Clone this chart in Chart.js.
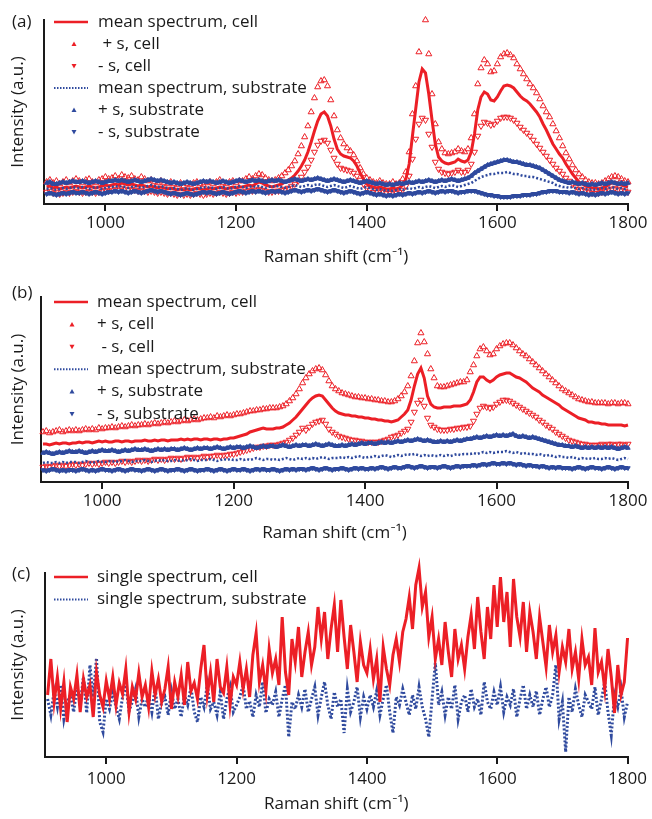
<!DOCTYPE html>
<html>
<head>
<meta charset="utf-8">
<script src="https://cdn.jsdelivr.net/npm/chart.js@4.4.1/dist/chart.umd.min.js"></script>
<style>
  body { margin: 0; background: #fff; }
  .panel { position: absolute; left: 0; width: 652px; height: 272px; }
</style>
</head>
<body>
<div class="panel" style="top:0px"><canvas id="panelA"></canvas></div>
<div class="panel" style="top:276px"><canvas id="panelB"></canvas></div>
<div class="panel" style="top:547px"><canvas id="panelC"></canvas></div>
<script>
// Raman shift grid (cm-1), one point every 5 cm-1
var shift = [];
for (var w = 910; w <= 1800; w += 5) shift.push(w);

var xTicks = [1000, 1200, 1400, 1600, 1800];

// (a) intensities
var cellMeanA = [
  17,18,16,17,15,16,17,16,17,18, 17,16,17,18,17,16,17,18,19,18,
  19,20,19,21,20,19,20,19,18,19, 18,17,18,17,16,17,16,15,16,15,
  14,15,14,15,14,15,16,15,14,15, 16,15,16,17,16,15,16,17,16,17,
  17,18,19,18,20,22,21,19,18,17, 18,19,20,22,24,26,29,33,38,44,
  52,62,73,83,90,92,88,78,65,55, 50,48,47,46,43,38,31,25,20,18,
  17,16,17,16,15,15,16,15,16,19, 25,40,68,95,122,135,131,110,84,60,
  47,43,41,40,41,42,45,43,42,44, 52,70,94,107,112,110,104,103,107,113,
  118,119,118,116,112,108,105,103,100,96, 92,87,80,74,67,60,55,50,46,40,
  35,30,26,22,20,18,17,16,16,15, 16,17,19,21,22,21,19,18,17
];
var cellUpA = [
  22,24,21,23,20,22,24,21,23,25, 23,21,24,25,22,21,24,25,27,25,
  26,28,25,29,27,26,28,25,24,27, 25,23,24,22,21,23,21,20,22,20,
  19,21,18,20,19,21,22,20,19,21, 22,20,22,24,21,20,22,23,21,23,
  23,25,27,25,28,30,29,26,24,23, 24,26,28,31,34,38,43,50,58,67,
  78,92,106,117,123,124,118,104,88,74, 66,60,56,53,49,43,36,30,26,24,
  22,21,23,21,20,20,22,20,21,25, 32,52,90,118,152,189,184,150,110,80,
  62,55,51,50,51,52,55,53,52,55, 66,90,120,136,144,140,132,133,140,147,
  150,151,149,146,140,135,130,125,120,116, 111,105,98,92,87,80,73,66,58,51,
  45,39,34,30,27,24,22,21,21,20, 21,23,25,27,28,27,25,23,22
];
var cellLowA = [
  12,13,11,12,10,11,12,11,12,13, 12,11,12,13,12,11,12,13,14,13,
  14,15,14,16,15,14,15,14,13,14, 13,12,13,12,11,12,11,10,11,10,
  9,10,9,10,9,10,11,10,9,10, 11,10,11,12,11,10,11,12,11,12,
  12,13,14,13,14,15,14,13,12,12, 13,13,14,15,16,18,20,23,27,32,
  37,44,52,59,63,64,61,54,46,40, 36,35,34,33,31,28,24,20,16,14,
  12,12,13,12,11,11,12,11,12,14, 18,28,45,65,80,86,84,70,57,42,
  35,32,31,30,31,32,34,32,32,34, 40,52,68,78,82,81,79,80,83,86,
  87,87,86,84,81,77,74,71,68,64, 60,56,52,48,44,40,36,33,30,26,
  23,20,17,15,14,13,12,11,11,11, 12,13,14,15,16,15,14,13,12
];
var subMeanA = [
  15,16,15,14,15,16,15,16,17,16, 16,17,16,15,16,17,16,15,16,17,
  17,18,17,18,17,16,17,18,17,16, 17,18,19,18,17,18,17,16,15,16,
  15,14,15,16,15,14,15,16,17,16, 17,16,15,16,17,16,15,16,17,18,
  17,16,17,18,17,18,17,16,17,18, 17,18,17,16,17,18,19,18,17,18,
  19,18,19,20,19,18,17,18,19,18, 17,16,17,18,17,16,15,16,17,16,
  15,14,15,14,13,14,13,14,15,14, 15,16,15,16,17,16,17,18,17,16,
  17,18,17,18,19,18,17,18,19,20, 21,23,25,27,28,29,30,30,31,31,
  31,32,31,30,30,29,28,28,27,27, 26,25,24,23,22,21,19,18,17,17,
  16,17,16,15,16,15,14,15,14,15, 16,15,16,17,16,15,16,15,16
];
var subUpA = [
  21,22,20,20,21,22,21,22,23,22, 22,23,22,21,22,23,22,21,22,23,
  23,24,23,24,23,22,23,24,23,22, 23,24,25,24,23,24,23,22,21,22,
  21,20,21,22,21,20,21,22,23,22, 23,22,21,22,23,22,21,22,23,24,
  23,22,23,24,23,24,23,22,23,24, 23,24,23,22,23,24,25,24,23,24,
  25,24,25,26,25,24,23,24,25,24, 23,22,23,24,23,22,21,22,23,22,
  21,20,21,20,19,20,19,20,21,20, 21,22,21,22,23,22,23,24,23,22,
  23,24,23,24,25,24,23,24,25,26, 28,31,33,35,37,39,40,41,42,43,
  44,44,43,42,42,41,40,39,39,38, 37,36,34,32,30,28,26,24,23,22,
  21,22,21,20,21,20,19,20,19,20, 21,20,21,22,21,20,21,20,21
];
var subLowA = [
  10,11,10,9,10,11,10,11,12,11, 11,12,11,10,11,12,11,10,11,12,
  12,13,12,13,12,11,12,13,12,11, 12,13,14,13,12,13,12,11,10,11,
  10,9,10,11,10,9,10,11,12,11, 12,11,10,11,12,11,10,11,12,13,
  12,11,12,13,12,13,12,11,12,13, 12,13,12,11,12,13,14,13,12,13,
  14,13,14,15,14,13,12,13,14,13, 12,11,12,13,12,11,10,11,12,11,
  10,9,10,9,8,9,8,9,10,9, 10,11,10,11,12,11,12,13,12,11,
  12,13,12,13,13,12,11,12,12,13, 13,13,12,11,10,9,9,8,8,7,
  7,7,7,8,8,8,9,9,9,10, 10,11,12,12,13,13,13,12,12,12,
  11,12,11,10,11,10,9,10,9,10, 11,10,11,12,11,10,11,10,11
];

// (b) intensities
var cellMeanB = [
  38,38,37,38,39,38,39,39,38,39, 39,40,39,40,40,39,40,41,40,41,
  40,40,41,41,40,41,41,40,41,41, 41,42,41,41,42,41,42,42,41,42,
  42,42,43,42,43,42,43,43,42,43, 43,42,43,43,42,43,43,44,44,45,
  46,47,48,50,51,52,53,54,53,53, 53,54,54,55,57,59,62,65,69,73,
  77,81,84,86,87,86,82,78,74,71, 69,68,67,67,66,66,65,65,64,64,
  63,63,62,62,61,61,60,61,62,65, 68,72,82,96,108,114,104,86,78,75,
  74,74,75,75,75,76,76,76,77,78, 82,90,100,105,105,102,100,102,105,107,
  108,109,109,107,105,104,102,100,97,94, 92,90,87,85,83,81,79,77,74,72,
  70,68,66,64,63,62,60,60,59,59, 58,58,57,57,57,57,57,56,57
];
var cellUpB = [
  50,51,49,50,51,52,50,51,52,51, 52,51,52,53,52,53,52,54,53,54,
  54,55,54,55,56,55,56,57,56,57, 57,58,57,58,59,58,59,60,59,60,
  61,60,61,62,61,62,63,62,63,64, 64,65,64,66,65,66,67,66,67,68,
  68,69,70,71,71,72,72,73,73,74, 74,74,75,76,78,81,84,88,93,99,
  104,108,111,113,114,112,107,101,96,93, 91,89,88,87,86,85,85,84,84,83,
  83,82,82,81,81,80,80,81,83,86, 90,96,106,121,139,149,140,128,113,104,
  96,95,95,96,97,98,99,100,100,102, 110,117,126,133,135,131,127,128,133,136,
  138,139,139,137,134,131,128,126,123,120, 117,114,111,108,105,102,99,96,93,91,
  89,87,85,83,82,81,80,80,79,79, 79,79,78,79,79,78,79,79,78
];
var cellLowB = [
  15,16,15,16,17,16,17,16,17,18, 17,18,17,18,19,18,19,18,19,20,
  19,20,19,20,21,20,21,20,21,22, 21,22,21,22,23,22,23,22,23,24,
  23,24,23,24,25,24,25,24,25,26, 25,26,26,27,26,27,27,28,28,29,
  30,31,32,33,34,35,35,36,36,37, 37,37,38,39,40,42,44,47,50,54,
  52,55,58,60,61,62,58,53,50,48, 46,45,44,43,42,42,41,41,40,40,
  40,40,40,41,42,43,45,46,47,49, 51,53,60,70,79,82,76,64,57,55,
  53,52,52,52,53,53,54,54,55,55, 56,61,68,74,76,75,74,75,78,80,
  82,82,81,79,77,75,73,71,69,67, 65,62,60,57,55,53,50,48,46,44,
  42,41,40,39,38,38,37,37,37,37, 38,37,38,38,37,38,38,37,38
];
var subMeanB = [
  19,20,19,19,20,19,20,19,20,20, 20,19,20,21,20,19,20,21,20,20,
  21,20,21,20,21,22,21,20,21,21, 21,22,21,20,21,22,21,22,21,21,
  22,21,22,21,22,23,22,21,22,22, 22,23,22,21,22,23,22,23,22,22,
  23,22,23,22,23,24,23,22,23,23, 22,23,22,23,24,23,22,23,24,23,
  24,23,24,23,24,25,24,23,24,24, 24,25,24,25,24,25,26,25,24,25,
  25,26,25,26,27,26,25,26,27,26, 27,28,27,28,27,26,27,26,27,26,
  26,27,26,27,26,27,28,27,28,28, 28,29,28,29,30,29,30,29,30,30,
  30,31,30,29,30,29,28,29,28,28, 27,28,27,26,27,26,25,26,25,25,
  24,25,24,23,24,23,24,23,24,23, 23,24,23,24,23,22,23,24,23
];
var subUpB = [
  29,30,29,28,29,30,29,30,31,30, 30,31,30,29,30,31,30,31,32,31,
  31,32,31,30,31,32,31,32,33,32, 32,33,32,31,32,33,32,33,32,33,
  33,32,33,34,33,32,33,34,33,34, 34,33,34,35,34,33,34,35,34,35,
  35,34,35,36,35,34,35,36,35,36, 36,35,36,37,36,35,36,37,36,37,
  37,36,37,38,37,36,37,38,37,36, 36,37,36,37,38,37,38,39,38,39,
  39,38,39,40,39,40,39,40,41,40, 41,42,41,42,43,42,41,42,41,40,
  40,41,40,41,40,41,42,41,42,43, 43,44,45,44,45,46,45,46,47,46,
  47,46,47,48,46,45,46,45,44,45, 44,43,42,41,40,39,38,37,37,36,
  36,35,36,35,34,35,34,35,34,35, 34,35,34,35,34,33,34,35,34
];
var subLowB = [
  12,11,12,13,12,11,12,11,12,12, 11,12,13,12,11,12,11,12,13,12,
  12,11,12,13,12,11,12,13,12,12, 11,12,13,12,11,12,13,12,11,12,
  12,13,12,11,12,13,12,11,12,12, 13,12,11,12,13,12,11,12,13,12,
  12,13,12,11,12,13,12,13,12,12, 13,12,11,12,13,12,13,12,13,13,
  12,13,14,13,12,13,14,13,12,13, 13,14,13,12,13,14,13,14,13,13,
  14,13,14,15,14,13,14,15,14,14, 15,16,15,14,15,16,15,14,15,15,
  14,15,16,15,14,15,16,15,16,16, 16,17,16,17,18,17,18,19,18,18,
  19,18,19,18,17,18,17,16,17,16, 16,15,16,15,14,15,14,15,14,14,
  14,13,14,15,14,13,14,15,14,14, 13,14,15,14,13,14,15,14,14
];

// (c) single spectra
var cellSingleC = [
  62,98,55,80,48,75,35,70,58,82, 45,78,60,72,40,85,62,50,76,58,
  80,52,74,63,88,45,70,58,84,60, 72,50,86,62,78,55,68,90,48,75,
  60,82,52,95,66,74,58,88,112,62, 85,55,98,70,64,90,52,80,72,95,
  68,88,60,102,124,75,92,66,108,84, 98,72,140,85,62,118,95,130,80,105,
  125,92,110,150,118,145,98,128,152,105, 157,120,88,132,105,75,115,92,84,108,
  78,98,55,110,88,72,102,118,95,125, 138,160,128,172,189,150,165,120,140,98,
  118,92,135,105,80,128,98,112,88,120, 142,108,160,125,98,150,118,172,130,180,
  135,165,110,178,140,120,155,105,145,125, 98,140,115,90,132,105,122,85,110,95,
  128,88,105,78,118,92,100,72,129,85, 95,68,108,80,44,92,62,75,119
];
var subSingleC = [
  58,42,66,50,72,38,55,62,45,70, 52,80,44,92,60,99,35,25,58,48,
  64,50,38,60,72,46,55,68,40,58, 50,62,45,70,38,55,60,42,66,48,
  58,40,62,52,70,45,35,60,50,72, 48,55,42,65,38,58,70,45,52,60,
  72,48,56,40,62,50,75,44,58,52, 65,40,58,72,20,55,48,62,50,68,
  45,58,70,42,60,75,52,38,65,50, 58,24,68,45,55,70,40,60,48,62,
  50,66,42,58,72,45,24,60,52,68, 55,42,62,48,70,50,38,20,58,94,
  52,65,42,60,48,72,38,55,62,45, 68,50,58,42,75,55,48,65,52,70,
  45,60,52,68,40,58,72,48,62,50, 66,42,58,70,50,62,92,38,55,5,
  60,45,68,52,40,62,55,48,70,42, 58,75,45,22,62,50,68,40,55
];

var RED = '#ec1f26';
var BLUE = '#2f4a9e';
var INK = '#1a1a1a';
var FONT = '"Open Sans", Lato, sans-serif';

// legend + panel letter drawn inside the plot, upper left
var panelLegend = {
  id: 'panelLegend',
  afterDraw: function(chart, args, o) {
    if (!o || !o.letter) return;
    var ctx = chart.ctx;
    ctx.save();
    ctx.font = '17px ' + FONT;
    ctx.textBaseline = 'middle';
    ctx.fillStyle = INK;
    ctx.fillText(o.letter, 12, o.letterY);
    chart.data.datasets.forEach(function(ds, i) {
      var y = o.rowY + i * o.rowStep;
      if (ds.pointRadius === 0) {
        ctx.strokeStyle = ds.borderColor;
        ctx.lineWidth = ds.borderDash.length ? 2 : 2.5;
        ctx.setLineDash(ds.borderDash.length ? [1.5, 1.5] : []);
        ctx.beginPath();
        ctx.moveTo(54, y);
        ctx.lineTo(88, y);
        ctx.stroke();
        ctx.setLineDash([]);
      } else {
        var d = ds.pointRotation === 180 ? -1 : 1;
        ctx.fillStyle = ds.pointBorderColor;
        ctx.beginPath();
        ctx.moveTo(o.markX, y - 2.5 * d);
        ctx.lineTo(o.markX + 2.5, y + 2 * d);
        ctx.lineTo(o.markX - 2.5, y + 2 * d);
        ctx.closePath();
        ctx.fill();
      }
      ctx.fillStyle = INK;
      ctx.fillText(ds.label, o.textX, y);
    });
    ctx.restore();
  }
};
Chart.register(panelLegend);

function meanLine(label, data, color, dotted) {
  return {
    label: label, data: data, borderColor: color,
    borderWidth: dotted ? 2.5 : 3, borderDash: dotted ? [2, 2] : [],
    pointRadius: 0, tension: 0, clip: false, order: dotted ? 0 : 1
  };
}
function openMarks(label, data, down) {
  return {
    label: label, data: data, showLine: false, pointStyle: 'triangle',
    pointRadius: 3.5, pointBorderWidth: 1, pointBorderColor: RED,
    pointBackgroundColor: 'rgba(255,255,255,0)', pointRotation: down ? 180 : 0,
    borderColor: RED, clip: false, order: 1
  };
}
function bandMarks(label, data, down) {
  return {
    label: label, data: data, borderColor: BLUE, borderWidth: 4,
    pointStyle: 'triangle', pointRadius: 2.5, pointBorderWidth: 1,
    pointBorderColor: BLUE, pointBackgroundColor: BLUE,
    pointRotation: down ? 180 : 0, tension: 0, clip: false, order: 0
  };
}

function panelOptions(cfg) {
  return {
    responsive: true, maintainAspectRatio: false, animation: false,
    layout: { padding: { top: cfg.top, right: 24, left: 0, bottom: 0 } },
    plugins: {
      legend: { display: false },
      tooltip: { enabled: false },
      panelLegend: cfg.legend
    },
    scales: {
      x: {
        type: 'linear', min: cfg.xMin, max: 1800,
        afterBuildTicks: function(s) { s.ticks = xTicks.map(function(v) { return { value: v }; }); },
        afterFit: function(s) { s.height = cfg.xHeight; },
        ticks: {
          font: { family: FONT, size: 17 }, color: INK, padding: cfg.tickPad,
          maxRotation: 0, callback: function(v) { return String(v); }
        },
        grid: { drawOnChartArea: false, tickLength: 7, color: INK, lineWidth: 2 },
        border: { color: INK, width: 2 },
        title: {
          display: true, text: 'Raman shift (cm\u207B\u00B9)', color: INK,
          font: { family: FONT, size: 17 }, padding: { top: 0, bottom: 5 }
        }
      },
      y: {
        min: 0, max: cfg.yMax,
        afterFit: function(s) { s.width = cfg.yWidth; },
        ticks: { display: false },
        grid: { display: false },
        border: { color: INK, width: 2 },
        title: {
          display: true, text: 'Intensity (a.u.)', color: INK,
          font: { family: FONT, size: 17 }, padding: { top: 8, bottom: 0 }
        }
      }
    }
  };
}

// (a)
new Chart(document.getElementById('panelA'), {
  type: 'line',
  data: {
    labels: shift,
    datasets: [
      meanLine('mean spectrum, cell', cellMeanA, RED, false),
      openMarks(' + s, cell', cellUpA, false),
      openMarks('- s, cell', cellLowA, true),
      meanLine('mean spectrum, substrate', subMeanA, BLUE, true),
      bandMarks('+ s, substrate', subUpA, false),
      bandMarks('- s, substrate', subLowA, true)
    ]
  },
  options: panelOptions({
    top: 20, xHeight: 68, tickPad: 2, yWidth: 44, yMax: 184, xMin: 906,
    legend: { letter: '(a)', letterY: 22, rowY: 22, rowStep: 22, markX: 74, textX: 98 }
  })
});

// (b)
new Chart(document.getElementById('panelB'), {
  type: 'line',
  data: {
    labels: shift,
    datasets: [
      meanLine('mean spectrum, cell', cellMeanB, RED, false),
      openMarks('+ s, cell', cellUpB, false),
      openMarks(' - s, cell', cellLowB, true),
      meanLine('mean spectrum, substrate', subMeanB, BLUE, true),
      bandMarks('+ s, substrate', subUpB, false),
      bandMarks('- s, substrate', subLowB, true)
    ]
  },
  options: panelOptions({
    top: 21, xHeight: 66, tickPad: 2, yWidth: 41, yMax: 185, xMin: 907,
    legend: { letter: '(b)', letterY: 17, rowY: 26, rowStep: 22.4, markX: 72, textX: 97 }
  })
});

// (c)
new Chart(document.getElementById('panelC'), {
  type: 'line',
  data: {
    labels: shift,
    datasets: [
      {
        label: 'single spectrum, cell', data: cellSingleC, borderColor: RED,
        borderWidth: 3, borderDash: [], pointRadius: 0, tension: 0, clip: false
      },
      {
        label: 'single spectrum, substrate', data: subSingleC, borderColor: BLUE,
        borderWidth: 3, borderDash: [2, 2], pointRadius: 0, tension: 0, clip: false
      }
    ]
  },
  options: panelOptions({
    top: 26, xHeight: 62, tickPad: 5, yWidth: 45, yMax: 184, xMin: 906,
    legend: { letter: '(c)', letterY: 27, rowY: 30, rowStep: 22.5, markX: 72, textX: 97 }
  })
});
</script>
</body>
</html>
